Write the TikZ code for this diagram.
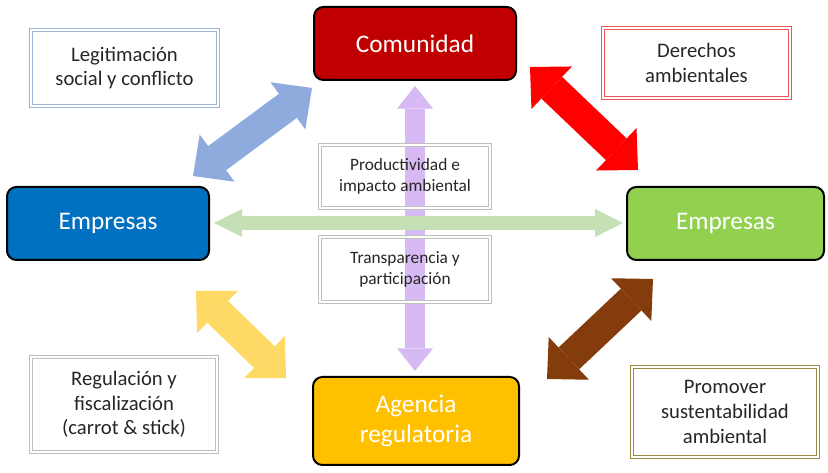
\documentclass[tikz,border=0pt]{standalone}
\usepackage{fontspec}
\setmainfont{Carlito}
\usetikzlibrary{arrows.meta}

\definecolor{rojoOsc}{HTML}{C00000}
\definecolor{azulOsc}{HTML}{0070C0}
\definecolor{verdeMed}{HTML}{92D050}
\definecolor{amarOsc}{HTML}{FFC000}
\definecolor{azulCl}{HTML}{8FAADC}
\definecolor{amarCl}{HTML}{FFD966}
\definecolor{cafe}{HTML}{843C0C}
\definecolor{verdeCl}{HTML}{C5E0B4}
\definecolor{lila}{HTML}{D7B9F3}
\definecolor{bordeAzul}{HTML}{9DB5E0}
\definecolor{bordeRojo}{HTML}{F05555}
\definecolor{bordeGris}{HTML}{BFBFBF}
\definecolor{bordeOro}{HTML}{A08845}
\definecolor{texto}{HTML}{262626}

\tikzset{
  actor/.style={draw=black, line width=1.5pt, rounded corners=7pt, fill=#1,
    text=white, align=center, inner sep=0pt,
    font=\fontsize{19}{22}\selectfont},
  tema/.style={draw=#1, double=white, double distance=1.1pt, line width=0.85pt,
    text=texto, align=center, inner sep=0pt,
    font=\fontsize{15.5}{18.5}\selectfont},
  flecha/.style={draw=#1, line width=22.5pt,
    arrows={Triangle[length=22.5pt,width=44pt,line width=0pt]-Triangle[length=22.5pt,width=44pt,line width=0pt]}},
}

\begin{document}
\begin{tikzpicture}[x=0.75pt,y=-0.75pt]
  \useasboundingbox (0,0) rectangle (828,473);

  % extremos de las flechas
  \coordinate (azulA) at (193,176);
  \coordinate (azulB) at (312,88);
  \coordinate (rojoA) at (530,67);
  \coordinate (rojoB) at (638,170);
  \coordinate (amarA) at (196,291);
  \coordinate (amarB) at (286,378);
  \coordinate (cafeA) at (547,379);
  \coordinate (cafeB) at (653,279);
  \coordinate (verdeA) at (214,223);
  \coordinate (verdeB) at (623,223);
  \coordinate (lilaA) at (415,86);
  \coordinate (lilaB) at (415,371);

  \draw[flecha=azulCl] (azulA) -- (azulB);
  \draw[flecha=red] (rojoA) -- (rojoB);
  \draw[flecha=amarCl] (amarA) -- (amarB);
  \draw[flecha=cafe] (cafeA) -- (cafeB);
  \draw[draw=lila, line width=15pt,
    arrows={Triangle[length=17pt,width=27pt,line width=0pt]-Triangle[length=17pt,width=27pt,line width=0pt]}]
    (lilaA) -- (lilaB);
  \draw[draw=verdeCl, line width=11pt,
    arrows={Triangle[length=21pt,width=21pt,line width=0pt]-Triangle[length=21pt,width=21pt,line width=0pt]}]
    (verdeA) -- (verdeB);

  % actores
  \node[actor=rojoOsc, minimum width=151.5pt, minimum height=54.75pt] (comunidad) at (415,43.5) {Comunidad};
  \node[actor=azulOsc, minimum width=151.5pt, minimum height=54.75pt] (empresasI) at (108,223.5) {Empresas};
  \node[actor=verdeMed, minimum width=147.75pt, minimum height=54.75pt] (empresasD) at (725.5,223.5) {Empresas};
  \node[actor=amarOsc, minimum width=154.5pt, minimum height=66pt] (agencia) at (416,421) {Agencia\\regulatoria};

  % temas
  \node[tema=bordeAzul, minimum width=140.25pt, minimum height=57pt] (legitim) at (124.5,68) {Legitimación\\social y conflicto};
  \node[tema=bordeRojo, minimum width=140.25pt, minimum height=52.5pt] (derechos) at (696.5,63) {Derechos\\ambientales};
  \node[tema=bordeGris, minimum width=127.5pt, minimum height=47.25pt,
    font=\fontsize{13}{16}\selectfont] (product) at (405,176.5) {Productividad e\\impacto ambiental};
  \node[tema=bordeGris, minimum width=127.5pt, minimum height=48.75pt,
    font=\fontsize{13}{16}\selectfont] (transp) at (405,269.5) {Transparencia y\\participación};
  \node[tema=bordeGris, minimum width=139.5pt, minimum height=71.25pt] (regulac) at (124,404.5) {Regulación y\\fiscalización\\(carrot \& stick)};
  \node[tema=bordeOro, minimum width=139.5pt, minimum height=67.5pt] (promover) at (725,412) {Promover\\sustentabilidad\\ambiental};
\end{tikzpicture}
\end{document}
